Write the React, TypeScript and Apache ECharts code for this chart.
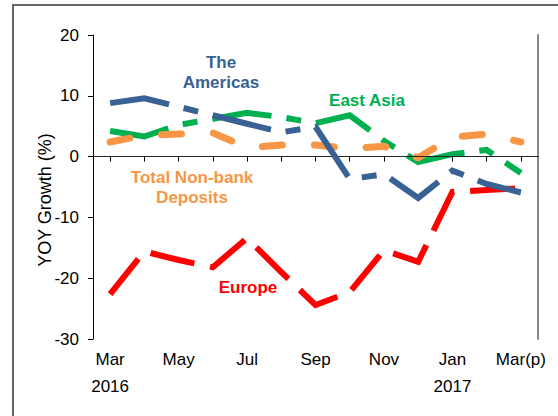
import React, { useEffect, useRef } from "react";
import * as echarts from "echarts";

const categories = ["Mar", "Apr", "May", "Jun", "Jul", "Aug", "Sep", "Oct", "Nov", "Dec", "Jan", "Feb", "Mar(p)"];
const years = ["2016", "", "", "", "", "", "", "", "", "", "2017", "", ""];
const yTicks = [-30, -20, -10, 0, 10, 20];

const americas = [8.8, 9.6, 8.2, 6.8, 5.4, 4.0, 4.9, -3.7, -2.9, -6.8, -2.3, -4.5, -5.9];
const eastAsia = [4.2, 3.3, 5.2, 6.2, 7.2, 6.5, 5.5, 6.8, 2.6, -0.9, 0.4, 1.1, -2.7];
const totalDeposits = [2.4, 3.5, 3.7, 3.9, 1.5, 1.9, 1.9, 1.3, 1.7, -0.2, 3.2, 3.7, 2.4];
const europe = [-22.6, -15.6, -17.0, -18.2, -13.4, -19.0, -24.4, -22.3, -15.4, -17.3, -5.8, -5.5, -5.2];

const FONT = '"Liberation Sans", Arial, sans-serif';
const BLUE = "#386294";
const GREEN = "#00B050";
const ORANGE = "#F79646";
const RED = "#FF0000";

export default function App() {
  const ref = useRef<HTMLDivElement>(null);
  useEffect(() => {
    if (!ref.current) return;
    const chart = echarts.init(ref.current, undefined, { renderer: "svg" });
    const yMin = yTicks[0];
    const yMax = yTicks[yTicks.length - 1];
    const yInt = yTicks[1] - yTicks[0];
    const option: any = {
      animation: false,
      backgroundColor: "#ffffff",
      grid: { left: 93, top: 35, right: 20, bottom: 77, containLabel: false },
      xAxis: [
        {
          type: "category",
          data: categories,
          boundaryGap: true,
          position: "bottom",
          axisLine: { show: true, lineStyle: { color: "#000", width: 1 } },
          axisTick: { show: true, alignWithLabel: true, interval: 0, length: 5, lineStyle: { color: "#000" } },
          axisLabel: {
            interval: 1,
            color: "#000",
            fontFamily: FONT,
            fontSize: 17,
            lineHeight: 27,
            margin: 7,
            formatter: (v: string, i: number) => (years[i] ? v + "\n" + years[i] : v),
          },
          splitLine: { show: false },
        },
        {
          type: "category",
          data: categories,
          boundaryGap: true,
          position: "top",
          axisLine: { show: true, lineStyle: { color: "#000", width: 1 } },
          axisTick: { show: false },
          axisLabel: { show: false },
          splitLine: { show: false },
        },
      ],
      yAxis: [
        {
          type: "value",
          min: yMin,
          max: yMax,
          interval: yInt,
          position: "left",
          axisLine: { show: true, lineStyle: { color: "#000", width: 1 } },
          axisTick: { show: true, length: 5, lineStyle: { color: "#000" } },
          axisLabel: { color: "#000", fontFamily: FONT, fontSize: 17, margin: 14 },
          splitLine: { show: false },
        },
        {
          type: "value",
          min: yMin,
          max: yMax,
          interval: yInt,
          position: "right",
          axisLine: { show: true, lineStyle: { color: "#868686", width: 2 } },
          axisTick: { show: false },
          axisLabel: { show: false },
          splitLine: { show: false },
        },
      ],
      series: [
        {
          name: "Europe",
          type: "line",
          data: europe,
          symbol: "none",
          lineStyle: { color: RED, width: 6, type: [45, 16], cap: "butt", join: "miter" },
          z: 2,
        },
        {
          name: "East Asia",
          type: "line",
          data: eastAsia,
          symbol: "none",
          lineStyle: { color: GREEN, width: 6, type: [60, 15, 15, 15], cap: "butt", join: "miter" },
          z: 3,
        },
        {
          name: "Total Non-bank Deposits",
          type: "line",
          data: totalDeposits,
          symbol: "none",
          lineStyle: { color: ORANGE, width: 7, type: [20, 32], cap: "round", join: "round" },
          z: 4,
        },
        {
          name: "The Americas",
          type: "line",
          data: americas,
          symbol: "none",
          lineStyle: { color: BLUE, width: 6, type: [60, 15, 15, 15], cap: "butt", join: "miter" },
          z: 5,
          markLine: {
            silent: true,
            symbol: ["none", "none"],
            label: { show: false },
            lineStyle: { color: "#262626", width: 1, type: "solid" },
            data: [{ yAxis: 0 }],
          },
        },
      ],
      graphic: [
        {
          type: "rect",
          silent: true,
          shape: { x: 13, y: 5, width: 700, height: 600 },
          style: { fill: "none", stroke: "#666666", lineWidth: 2 },
        },
        {
          type: "text",
          x: 45,
          y: 200,
          rotation: Math.PI / 2,
          style: { text: "YOY Growth (%)", fill: "#000", font: `18px ${FONT}`, align: "center", verticalAlign: "middle" },
        },
        {
          type: "text",
          x: 221,
          y: 72,
          style: { text: "The\nAmericas", fill: BLUE, font: `bold 17px ${FONT}`, lineHeight: 20, align: "center", verticalAlign: "middle" },
        },
        {
          type: "text",
          x: 367,
          y: 100,
          style: { text: "East Asia", fill: GREEN, font: `bold 17px ${FONT}`, align: "center", verticalAlign: "middle" },
        },
        {
          type: "text",
          x: 192,
          y: 187,
          style: { text: "Total Non-bank\nDeposits", fill: ORANGE, font: `bold 17px ${FONT}`, lineHeight: 20, align: "center", verticalAlign: "middle" },
        },
        {
          type: "text",
          x: 248,
          y: 287,
          style: { text: "Europe", fill: RED, font: `bold 17px ${FONT}`, align: "center", verticalAlign: "middle" },
        },
      ],
    };
    chart.setOption(option);
    return () => chart.dispose();
  }, []);
  return (
    <div
      ref={ref}
      style={{ position: "fixed", left: 0, top: 0, width: 558, height: 416, background: "#fff" }}
    />
  );
}
